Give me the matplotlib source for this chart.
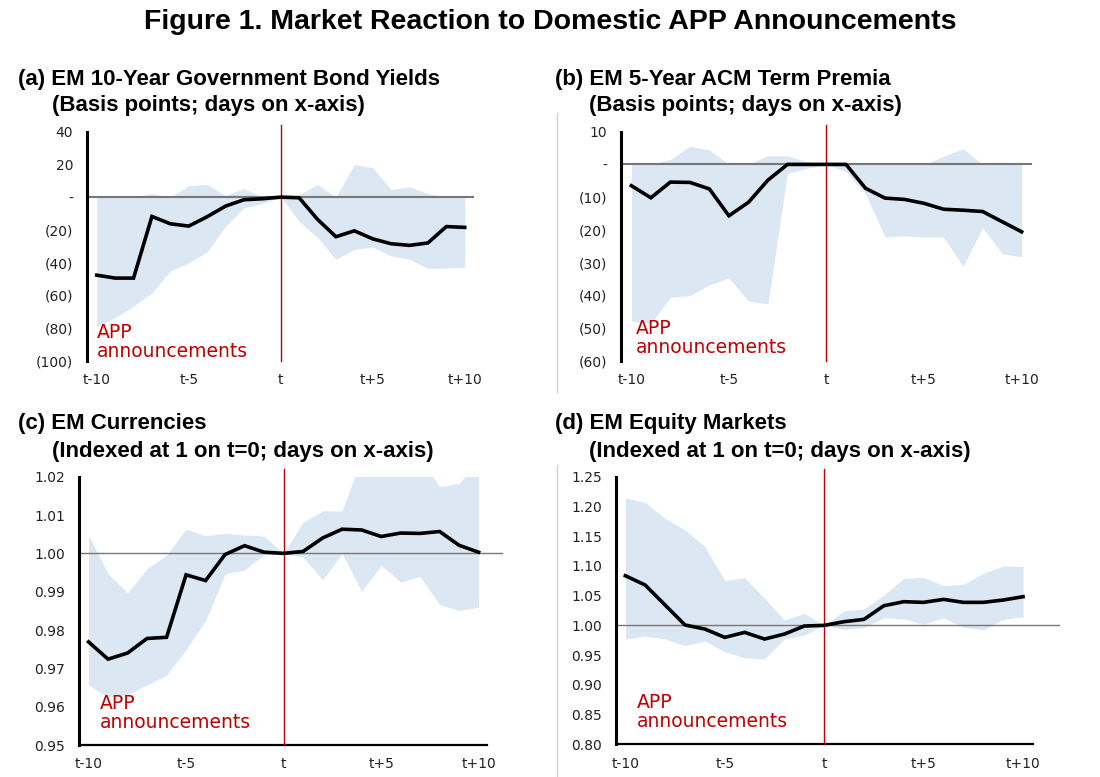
import numpy as np
import matplotlib
matplotlib.use("Agg")
import matplotlib.pyplot as plt
from matplotlib.lines import Line2D

days = np.arange(-10, 11)
xtick_pos = [-10, -5, 0, 5, 10]
xtick_labels = ['t-10', 't-5', 't', 't+5', 't+10']

# (a) EM 10-year government bond yields, bps
bond_mid = [-47.7, -49.5, -49.5, -11.8, -16.3, -17.7, -12.0, -5.5, -1.6, -1.0, 0.0,
            -0.4, -13.6, -24.2, -20.6, -25.5, -28.5, -29.5, -28.0, -18.0, -18.5]
bond_hi = [0.0, 0.0, 0.0, 2.2, 0.0, 7.0, 7.7, 1.0, 5.3, 0.0, 0.0,
           1.6, 7.7, 0.0, 20.0, 18.0, 4.7, 6.3, 2.2, 0.0, 0.0]
bond_lo = [-79.2, -73.7, -66.6, -58.5, -45.2, -40.1, -33.4, -17.7, -6.5, -3.9, 0.0,
           -14.7, -24.8, -38.0, -32.0, -30.5, -36.0, -38.0, -43.6, -43.4, -42.8]
bond_yticks = [40, 20, 0, -20, -40, -60, -80, -100]
bond_ylabels = ['40', '20', '-', '(20)', '(40)', '(60)', '(80)', '(100)']

# (b) EM 5-year ACM term premia, bps
acm_mid = [-6.5, -10.2, -5.4, -5.5, -7.5, -15.7, -11.6, -4.8, 0.0, 0.0, 0.0,
           0.0, -7.3, -10.3, -10.7, -11.9, -13.7, -14.0, -14.4, -17.5, -20.6]
acm_hi = [0.0, 0.0, 1.5, 5.6, 4.4, 0.0, 0.0, 2.7, 2.6, 0.8, 0.0,
          0.0, 0.0, 0.0, 0.0, 0.0, 2.5, 4.8, 0.0, 0.0, 0.0]
acm_lo = [-47.9, -48.6, -40.6, -40.1, -36.8, -34.7, -41.8, -42.6, -2.7, -1.2, 0.0,
          -2.2, -9.0, -22.2, -21.8, -22.2, -22.2, -31.2, -19.3, -27.3, -28.3]
acm_yticks = [10, 0, -10, -20, -30, -40, -50, -60]
acm_ylabels = ['10', '-', '(10)', '(20)', '(30)', '(40)', '(50)', '(60)']

# (c) EM currencies, indexed at 1 on t=0
fx_mid = [0.9769, 0.9724, 0.9740, 0.9778, 0.9781, 0.9944, 0.9929, 0.9997, 1.0020, 1.0003, 1.0,
          1.0005, 1.0040, 1.0063, 1.0061, 1.0044, 1.0053, 1.0052, 1.0057, 1.0021, 1.0003]
fx_hi = [1.0047, 0.9947, 0.9897, 0.9960, 0.9995, 1.0063, 1.0046, 1.0052, 1.0048, 1.0045, 1.0,
         1.0081, 1.0111, 1.0110, 1.0250, 1.0250, 1.0250, 1.0250, 1.0174, 1.0183, 1.0240]
fx_lo = [0.9657, 0.9624, 0.9631, 0.9657, 0.9682, 0.9749, 0.9825, 0.9946, 0.9957, 0.9997, 1.0,
         0.9990, 0.9931, 1.0000, 0.9901, 0.9969, 0.9925, 0.9940, 0.9866, 0.9851, 0.9860]
fx_yticks = [1.02, 1.01, 1.00, 0.99, 0.98, 0.97, 0.96, 0.95]

# (d) EM equity markets, indexed at 1 on t=0
eq_mid = [1.0835, 1.0678, 1.0342, 1.0006, 0.9938, 0.9798, 0.9882, 0.9770, 0.9854, 0.9989, 1.0,
          1.0062, 1.0101, 1.0330, 1.0398, 1.0387, 1.0437, 1.0387, 1.0387, 1.0426, 1.0482]
eq_hi = [1.2147, 1.2068, 1.1800, 1.1603, 1.1323, 1.0751, 1.0802, 1.0454, 1.0090, 1.0202, 1.0,
         1.0247, 1.0275, 1.0510, 1.0790, 1.0807, 1.0667, 1.0690, 1.0874, 1.0998, 1.0987]
eq_lo = [0.9770, 0.9820, 0.9770, 0.9658, 0.9737, 0.9557, 0.9456, 0.9434, 0.9770, 0.9837, 1.0,
         0.9933, 0.9961, 1.0129, 1.0107, 1.0022, 1.0129, 0.9966, 0.9922, 1.0101, 1.0146]
eq_yticks = [1.25, 1.20, 1.15, 1.10, 1.05, 1.00, 0.95, 0.90, 0.85, 0.80]

BAND = '#dce7f4'
RED = '#c00000'
W, H = 1100, 777


def px_axes(fig, x0, x1, ytop, ybot):
    return fig.add_axes([x0 / W, 1 - ybot / H, (x1 - x0) / W, (ybot - ytop) / H])


def draw_panel(ax, mid, hi, lo, base, ylim, yticks, ylabels, xlim, hline_end,
               hline_lw, bottom_spine, text_xy):
    ax.fill_between(days, lo, hi, color=BAND, linewidth=0, zorder=1)
    ax.axhline(base, xmin=0, xmax=hline_end, color='#777777', lw=hline_lw,
               zorder=2, clip_on=False)
    ax.axvline(0, ymin=0, ymax=1.03, color=RED, lw=1.0, zorder=3, clip_on=False)
    ax.plot(days, mid, color='black', lw=2.6, zorder=4, solid_joinstyle='miter')
    ax.set_xlim(*xlim)
    ax.set_ylim(*ylim)
    ax.set_yticks(yticks)
    ax.set_yticklabels(ylabels)
    ax.set_xticks(xtick_pos)
    ax.set_xticklabels(xtick_labels)
    ax.tick_params(length=0, labelsize=10, colors='#222222', pad=10)
    ax.tick_params(axis='x', pad=9)
    for s in ['top', 'right']:
        ax.spines[s].set_visible(False)
    ax.spines['left'].set_linewidth(2.2)
    ax.spines['left'].set_color('black')
    if bottom_spine:
        ax.spines['bottom'].set_linewidth(1.6)
        ax.spines['bottom'].set_color('black')
    else:
        ax.spines['bottom'].set_visible(False)
    ax.set_facecolor('none')
    ax.text(text_xy[0], text_xy[1], 'APP\nannouncements', transform=ax.transAxes,
            color=RED, fontsize=13.5, linespacing=1.0, va='bottom', ha='left')


fig = plt.figure(figsize=(11, 7.77), dpi=100)

fig.text(0.5, 1 - 22 / H, 'Figure 1. Market Reaction to Domestic APP Announcements',
         ha='center', va='center', fontsize=20.5, fontweight='bold',
         family='Liberation Sans')

titles = [
    (18, 79, '(a) EM 10-Year Government Bond Yields', '(Basis points; days on x-axis)'),
    (555, 79, '(b) EM 5-Year ACM Term Premia', '(Basis points; days on x-axis)'),
    (18, 424, '(c) EM Currencies', '(Indexed at 1 on t=0; days on x-axis)'),
    (555, 424, '(d) EM Equity Markets', '(Indexed at 1 on t=0; days on x-axis)'),
]
for x, y, l1, l2 in titles:
    fig.text(x / W, 1 - y / H, l1, ha='left', va='center', fontsize=16,
             fontweight='bold', family='Liberation Sans')
    fig.text((x + 34) / W, 1 - (y + 27) / H, l2, ha='left', va='center',
             fontsize=16, fontweight='bold', family='Liberation Sans')

# separator between columns
fig.add_artist(Line2D([556.5 / W] * 2, [1 - 113 / H, 1 - 392 / H],
                      color='#d0d0d0', lw=1, transform=fig.transFigure))
fig.add_artist(Line2D([556.5 / W] * 2, [1 - 465 / H, 0],
                      color='#d0d0d0', lw=1, transform=fig.transFigure))

ax_a = px_axes(fig, 87, 473, 131.7, 360.7)
draw_panel(ax_a, bond_mid, bond_hi, bond_lo, 0, (-100, 40), bond_yticks, bond_ylabels,
           (-10.53, 10.45), 1.0, 1.5, False, (0.026, 0.0))

ax_b = px_axes(fig, 621, 1031, 131.7, 360.7)
draw_panel(ax_b, acm_mid, acm_hi, acm_lo, 0, (-60, 10), acm_yticks, acm_ylabels,
           (-10.53, 10.48), 1.0, 1.5, False, (0.037, 0.015))

ax_c = px_axes(fig, 79, 487, 476.7, 745)
draw_panel(ax_c, fx_mid, fx_hi, fx_lo, 1.0, (0.95, 1.02), fx_yticks,
           ['%.2f' % v for v in fx_yticks], (-10.49, 10.43), 1.037, 1.0, True, (0.051, 0.05))

ax_d = px_axes(fig, 616, 1033, 476.7, 744.3)
draw_panel(ax_d, eq_mid, eq_hi, eq_lo, 1.0, (0.80, 1.25), eq_yticks,
           ['%.2f' % v for v in eq_yticks], (-10.47, 10.5), 1.062, 1.0, True, (0.05, 0.05))

fig.savefig('out.png', dpi=100)
